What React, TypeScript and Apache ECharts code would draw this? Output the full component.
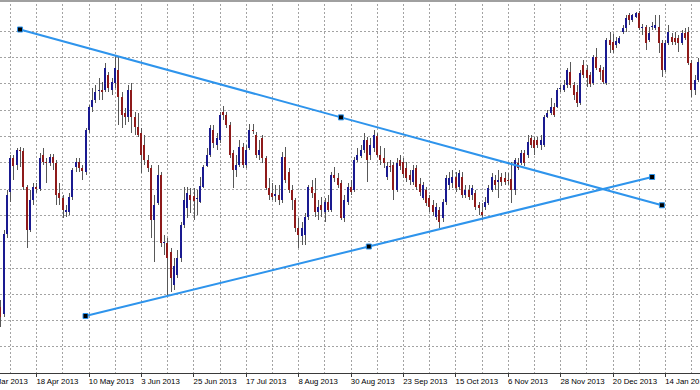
import React, { useEffect, useRef } from "react";
import * as echarts from "echarts";

// Axis tick labels, one every 16 daily bars starting at bar 0
const TICK_LABELS = [
  "27 Mar 2013", "18 Apr 2013", "10 May 2013", "3 Jun 2013", "25 Jun 2013",
  "17 Jul 2013", "8 Aug 2013", "30 Aug 2013", "23 Sep 2013", "15 Oct 2013",
  "6 Nov 2013", "28 Nov 2013", "20 Dec 2013", "14 Jan 2014",
];

// USD/JPY daily candles (bar index = position in arrays)
const OPEN = [
  94.20, 94.12, 94.16, 94.08, 93.52, 93.72, 93.44, 96.64, 98.32, 99.68,
  99.40, 100.00, 99.96, 98.52, 96.80, 98.00, 98.52, 98.44, 99.80, 99.52,
  99.48, 99.72, 99.48, 98.28, 98.08, 97.52, 97.52, 98.12, 99.32, 99.52,
  99.28, 99.12, 100.80, 101.72, 102.00, 102.36, 102.40, 102.40, 103.00, 102.40,
  102.68, 103.20, 102.12, 101.48, 101.32, 102.40, 101.32, 100.92, 100.68, 100.20,
  99.60, 99.28, 97.20, 97.88, 99.00, 96.28, 96.28, 95.92, 94.60, 95.00,
  95.68, 97.00, 97.68, 98.20, 98.16, 98.04, 97.92, 98.52, 99.36, 99.80,
  100.80, 100.20, 100.40, 101.52, 101.40, 101.00, 99.88, 99.20, 99.40, 100.12,
  99.40, 100.08, 100.80, 100.60, 99.80, 100.48, 99.68, 98.48, 98.28, 98.16,
  98.20, 98.00, 99.72, 99.12, 98.40, 98.00, 96.88, 96.56, 96.60, 97.32,
  98.52, 98.28, 97.52, 97.80, 97.52, 97.92, 97.60, 99.00, 98.88, 98.68,
  97.28, 97.92, 98.52, 98.40, 99.60, 99.76, 100.00, 100.40, 99.80, 100.08,
  100.56, 99.80, 99.68, 98.92, 99.36, 99.40, 98.40, 99.60, 99.52, 99.28,
  99.00, 98.72, 99.28, 98.64, 98.08, 98.40, 98.08, 97.80, 97.32, 97.60,
  97.28, 97.92, 98.60, 98.68, 98.92, 98.52, 98.92, 98.20, 98.40, 98.20,
  98.28, 97.80, 97.52, 97.72, 97.88, 98.40, 98.80, 98.72, 98.92, 98.88,
  98.80, 98.84, 98.40, 99.48, 99.48, 99.88, 99.80, 100.48, 100.40, 100.40,
  100.20, 100.20, 101.32, 101.48, 101.72, 101.72, 102.44, 102.40, 102.60, 103.12,
  102.60, 102.32, 101.88, 103.40, 103.20, 103.00, 102.68, 103.72, 103.28, 103.20,
  102.68, 104.40, 104.32, 104.20, 104.28, 104.72, 104.88, 105.40, 105.20, 105.32,
  105.48, 104.88, 104.92, 104.40, 104.92, 104.88, 104.92, 104.28, 103.20, 104.28,
  104.52, 104.48, 104.48, 104.28, 104.68, 104.72, 103.48, 102.40, 102.80, 103.52,
];
const CLOSE = [
  94.12, 94.16, 94.08, 93.52, 93.72, 93.32, 96.64, 98.20, 99.68, 99.36,
  100.00, 99.96, 98.52, 96.80, 98.00, 98.52, 98.44, 99.68, 99.52, 99.48,
  99.72, 99.48, 98.20, 98.08, 97.60, 97.60, 98.12, 99.20, 99.52, 99.28,
  99.16, 100.80, 101.72, 102.00, 102.32, 102.40, 102.32, 103.28, 102.48, 102.72,
  103.28, 102.12, 101.40, 101.32, 102.40, 101.32, 100.92, 100.60, 99.80, 99.60,
  99.28, 97.20, 97.80, 99.00, 96.28, 96.32, 95.68, 94.88, 95.36, 95.68,
  97.00, 98.00, 98.28, 98.00, 97.96, 98.08, 98.56, 99.32, 99.80, 100.88,
  100.28, 100.48, 101.40, 101.40, 101.00, 99.80, 99.20, 99.40, 100.12, 99.40,
  100.00, 100.80, 100.76, 99.80, 100.00, 99.68, 98.48, 98.20, 98.12, 98.24,
  98.00, 99.72, 98.80, 98.40, 98.00, 96.88, 96.60, 96.88, 97.32, 98.52,
  98.28, 97.52, 97.72, 97.60, 97.92, 97.60, 99.00, 98.88, 98.60, 97.28,
  98.00, 98.52, 98.32, 99.60, 99.80, 100.00, 100.40, 99.60, 100.20, 100.60,
  99.80, 99.60, 99.48, 99.36, 99.32, 98.40, 99.48, 99.36, 99.04, 98.88,
  98.80, 99.20, 98.52, 98.32, 98.60, 97.88, 97.72, 97.52, 97.72, 97.12,
  97.92, 98.88, 98.88, 98.92, 98.48, 99.08, 98.20, 98.40, 98.12, 98.48,
  97.72, 97.68, 97.40, 97.92, 98.48, 98.92, 98.60, 98.80, 98.72, 98.72,
  98.76, 98.40, 99.60, 99.28, 99.88, 99.48, 100.32, 100.20, 100.08, 100.20,
  100.40, 101.32, 101.48, 101.72, 101.40, 102.40, 102.48, 102.60, 103.20, 102.60,
  102.20, 101.88, 103.08, 103.00, 102.88, 102.64, 103.72, 103.28, 103.12, 102.72,
  104.40, 104.20, 104.00, 104.36, 104.48, 104.88, 105.28, 105.20, 105.40, 105.48,
  104.88, 104.92, 104.28, 104.68, 104.96, 105.00, 104.28, 103.20, 104.28, 104.72,
  104.32, 104.32, 104.28, 104.68, 104.48, 103.48, 102.40, 102.80, 103.52, 103.68,
];
const LOW = [
  93.88, 94.00, 93.96, 93.36, 93.20, 92.92, 93.32, 96.48, 97.92, 98.80,
  99.20, 99.32, 98.40, 96.08, 96.72, 97.80, 98.28, 98.36, 99.40, 98.68,
  99.36, 99.20, 97.80, 97.80, 97.28, 97.32, 97.40, 98.00, 99.12, 99.12,
  98.80, 99.00, 100.68, 101.52, 101.88, 102.00, 102.00, 102.32, 102.32, 102.20,
  102.48, 101.00, 100.88, 101.00, 101.12, 100.68, 100.60, 100.52, 99.08, 99.40,
  99.12, 96.48, 95.52, 97.80, 96.12, 95.80, 94.20, 94.32, 94.40, 94.88,
  95.52, 96.88, 97.28, 97.48, 97.20, 97.40, 97.88, 98.48, 99.32, 99.72,
  100.08, 100.00, 100.28, 101.20, 100.88, 99.68, 98.48, 98.92, 99.32, 99.28,
  99.28, 100.00, 100.64, 99.68, 99.60, 99.48, 98.40, 98.00, 98.00, 97.92,
  97.80, 97.88, 98.68, 98.28, 97.60, 96.72, 96.08, 96.20, 96.20, 97.20,
  98.08, 97.32, 97.20, 97.32, 97.12, 97.52, 97.52, 98.72, 98.48, 97.20,
  97.12, 97.80, 98.20, 98.32, 99.52, 99.68, 99.88, 98.72, 99.60, 99.92,
  99.72, 99.40, 99.28, 98.80, 99.12, 98.00, 98.32, 99.20, 98.88, 98.72,
  98.60, 98.60, 98.40, 98.16, 98.00, 97.76, 97.52, 97.36, 97.20, 96.88,
  97.12, 97.80, 98.40, 98.48, 98.32, 98.40, 98.08, 98.08, 98.00, 98.00,
  97.60, 97.40, 97.20, 97.60, 97.80, 98.32, 98.40, 98.08, 98.56, 98.60,
  98.60, 97.88, 98.20, 99.20, 99.40, 99.36, 99.68, 100.08, 99.80, 100.08,
  100.00, 100.12, 101.28, 101.40, 101.32, 101.68, 102.32, 102.32, 102.48, 102.48,
  102.00, 101.72, 101.80, 102.88, 102.52, 102.52, 102.60, 103.20, 102.80, 102.64,
  102.60, 103.88, 103.88, 104.08, 104.24, 104.64, 104.72, 105.00, 105.12, 105.28,
  104.80, 104.60, 104.00, 104.32, 104.80, 104.80, 103.88, 102.92, 103.12, 104.20,
  104.20, 104.20, 103.92, 104.20, 104.40, 103.40, 102.12, 102.20, 102.72, 103.36,
];
const HIGH = [
  94.40, 94.32, 94.28, 94.20, 93.92, 94.00, 96.80, 98.40, 99.80, 99.80,
  100.08, 100.12, 100.08, 98.60, 98.40, 98.68, 98.68, 99.88, 100.08, 99.68,
  99.84, 99.84, 99.60, 98.68, 98.20, 97.80, 98.28, 99.28, 99.68, 99.68,
  99.40, 100.88, 101.80, 102.48, 102.60, 102.88, 102.72, 103.48, 103.12, 102.88,
  103.76, 103.72, 102.32, 101.68, 102.60, 102.68, 101.52, 101.48, 100.88, 100.60,
  99.80, 99.40, 98.20, 99.40, 99.12, 96.60, 96.48, 96.08, 95.68, 96.00,
  97.12, 98.52, 98.52, 98.48, 98.48, 98.40, 98.92, 99.40, 100.08, 101.00,
  101.00, 100.68, 101.52, 101.76, 101.52, 101.12, 100.00, 99.80, 100.40, 100.28,
  100.20, 101.04, 101.04, 100.72, 100.40, 100.60, 99.76, 98.88, 98.68, 98.60,
  98.60, 99.92, 100.12, 99.28, 98.60, 98.08, 97.28, 97.12, 97.48, 98.60,
  98.80, 98.88, 98.00, 98.12, 98.08, 98.20, 99.12, 99.32, 99.08, 98.80,
  98.20, 98.68, 98.80, 99.72, 100.08, 100.20, 100.68, 100.52, 100.48, 100.80,
  100.68, 100.16, 100.08, 99.52, 99.60, 99.52, 99.68, 99.80, 99.68, 99.52,
  99.20, 99.40, 99.40, 98.88, 98.72, 98.52, 98.20, 98.00, 97.88, 97.72,
  98.04, 99.00, 99.12, 99.20, 99.12, 99.20, 99.12, 98.60, 98.60, 98.60,
  98.40, 97.92, 97.88, 98.12, 98.60, 99.08, 99.00, 99.20, 99.08, 99.12,
  99.08, 99.52, 99.68, 99.68, 100.00, 100.00, 100.60, 100.60, 100.52, 100.52,
  100.60, 101.40, 101.60, 102.08, 101.88, 102.48, 102.60, 102.80, 103.28, 103.52,
  102.72, 102.60, 103.20, 103.60, 103.40, 103.12, 103.80, 104.08, 103.40, 103.32,
  104.48, 104.72, 104.64, 104.52, 104.56, 105.00, 105.40, 105.48, 105.44, 105.52,
  105.56, 105.04, 105.00, 104.92, 105.12, 105.40, 105.40, 104.40, 104.40, 105.00,
  104.68, 104.72, 104.60, 104.80, 104.88, 104.92, 103.60, 103.00, 103.68, 103.80,
];

// Trend lines: [bar index, price] for start, midpoint and end anchors
const TREND_UPPER = [[11, 104.82], [109, 101.305], [207, 97.79]];
const TREND_LOWER = [[31, 93.36], [117.5, 96.14], [204, 98.92]];

const BULL = "#1a1a90";
const BEAR = "#8e1a1a";
const WICK = "#585858";
const TREND = "#2e94ec";
const GRID = "#a3a3a3";

export default function App() {
  const ref = useRef<HTMLDivElement>(null);

  useEffect(() => {
    const chart = echarts.init(ref.current as HTMLDivElement, null, { renderer: "svg" });
    const BAR_PX = 3.275;
    const FIRST_X = -16;
    const N = 224;
    const PLOT_H = 373;
    const ROW_PX = 26.3;
    const ROWS = 13;

    const candles = OPEN.map((o, i) => [i, o, CLOSE[i], LOW[i], HIGH[i]]);
    const dashed = { color: GRID, type: [2, 2], width: 1 };

    const trendSeries = (data: number[][]) => ({
      type: "line",
      xAxisIndex: 0,
      yAxisIndex: 0,
      data,
      symbol: "rect",
      symbolSize: 5,
      showAllSymbol: true,
      silent: true,
      z: 5,
      lineStyle: { color: TREND, width: 2 },
      itemStyle: { color: "#000000", borderColor: TREND, borderWidth: 1 },
    });

    chart.setOption({
      animation: false,
      backgroundColor: "#ffffff",
      grid: [
        {
          left: FIRST_X, top: 0, width: N * BAR_PX, height: PLOT_H,
          containLabel: false, outerBoundsMode: "none",
        },
        {
          left: FIRST_X, top: PLOT_H - ROWS * ROW_PX, width: N * BAR_PX, height: ROWS * ROW_PX,
          containLabel: false, outerBoundsMode: "none",
        },
      ],
      xAxis: [
        {
          type: "value", gridIndex: 0, min: 0, max: N, interval: 8, position: "bottom",
          axisLine: { show: true, onZero: false, lineStyle: { color: "#3a3a3a", width: 1 } },
          axisTick: { show: false },
          axisLabel: { show: false },
          splitLine: { show: true, lineStyle: dashed },
        },
        {
          type: "value", gridIndex: 0, min: 0, max: N, interval: 16, position: "bottom",
          axisLine: { show: false, onZero: false },
          axisTick: { show: true, length: 4, lineStyle: { color: "#3a3a3a" } },
          axisLabel: {
            show: true,
            formatter: (v: number) => TICK_LABELS[Math.round(v / 16)] ?? "",
            align: "left",
            margin: 4,
            fontSize: 7.8,
            fontFamily: "Liberation Sans, Arial, sans-serif",
            color: "#000000",
          },
          splitLine: { show: false },
        },
        { type: "value", gridIndex: 1, min: 0, max: N, show: false },
      ],
      yAxis: [
        { type: "value", gridIndex: 0, min: 91.08, max: 106, show: false, splitLine: { show: false } },
        {
          type: "value", gridIndex: 1, min: 0, max: ROWS, interval: 1,
          axisLine: { show: false }, axisTick: { show: false }, axisLabel: { show: false },
          splitLine: { show: true, lineStyle: dashed },
        },
      ],
      series: [
        {
          type: "custom",
          xAxisIndex: 0,
          yAxisIndex: 0,
          data: candles,
          encode: { x: 0, y: [1, 2, 3, 4] },
          clip: true,
          silent: true,
          z: 3,
          renderItem: (_params: any, api: any) => {
            const i = api.value(0);
            const o = api.value(1);
            const c = api.value(2);
            const l = api.value(3);
            const h = api.value(4);
            const pO = api.coord([i, o]);
            const pC = api.coord([i, c]);
            const pL = api.coord([i, l]);
            const pH = api.coord([i, h]);
            const x = Math.round(pO[0]);
            const top = Math.round(Math.min(pO[1], pC[1]));
            const bot = Math.round(Math.max(pO[1], pC[1]));
            const fill = c > o ? BULL : c < o ? BEAR : WICK;
            return {
              type: "group",
              children: [
                {
                  type: "line",
                  shape: { x1: x + 0.5, y1: Math.round(pH[1]), x2: x + 0.5, y2: Math.round(pL[1]) },
                  style: { stroke: WICK, lineWidth: 1 },
                },
                {
                  type: "rect",
                  shape: { x: x - 1, y: top, width: 2, height: Math.max(bot - top, 1) },
                  style: { fill },
                },
              ],
            };
          },
        },
        trendSeries(TREND_UPPER),
        trendSeries(TREND_LOWER),
      ],
      graphic: [
        {
          type: "rect",
          z: 100,
          shape: { x: 0, y: 0, width: 700, height: 2 },
          style: { fill: "#a0a0a0" },
          silent: true,
        },
      ],
    });

    return () => chart.dispose();
  }, []);

  return (
    <div
      ref={ref}
      style={{ position: "absolute", left: 0, top: 0, width: 700, height: 390, background: "#ffffff" }}
    />
  );
}
